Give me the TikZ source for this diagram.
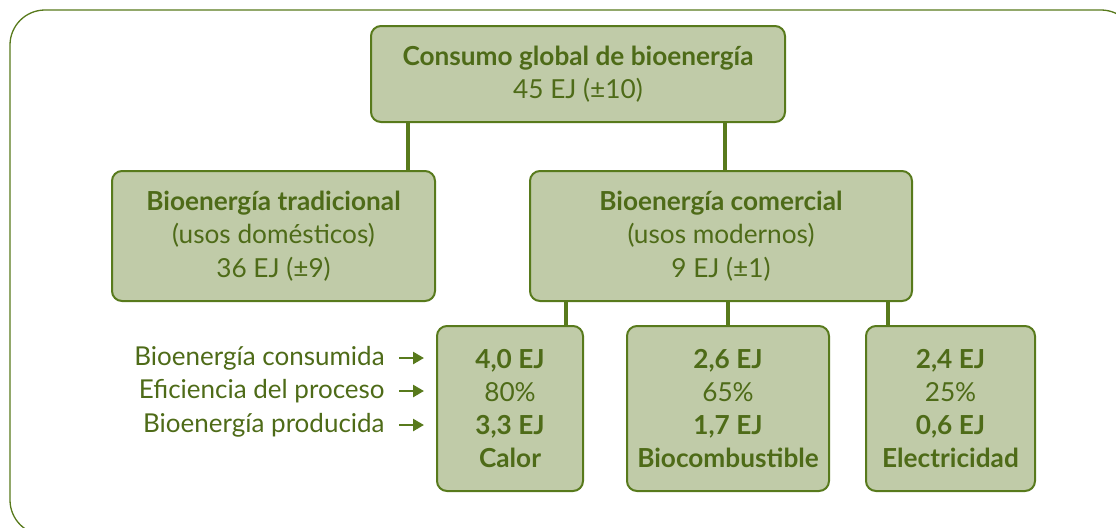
\documentclass[tikz,border=0pt]{standalone}
\usepackage{fontspec}
\setmainfont{Lato}
\usetikzlibrary{positioning,arrows.meta}
\definecolor{olive}{HTML}{587A1C}
\definecolor{olivetext}{HTML}{4E6B18}
\definecolor{sage}{HTML}{C0CBA8}
\tikzset{
  % --- frame and boxes ------------------------------------------------------
  frame/.style={draw=olive,line width=0.65pt},
  box/.style={rectangle,rounded corners=5pt,draw=olive,line width=1pt,
              fill=sage,align=center,text=olivetext,inner sep=2pt,
              font=\fontsize{13.1}{16.6}\selectfont},
  rowlab/.style={anchor=east,text=olivetext,inner sep=0pt,
                 font=\fontsize{13}{16.6}\selectfont},
  % --- connectors -----------------------------------------------------------
  link/.style={draw=olive,line width=2pt},
  pointer/.style={-{Triangle[length=5.5pt,width=6pt]},draw=olive,line width=1.3pt},
}

\begin{document}
\begin{tikzpicture}[x=0.5pt,y=-0.5pt]
  \useasboundingbox (0,0) rectangle (1116,527);
  \begin{scope}
    \clip (0,0) rectangle (1116,527);
    \draw[frame,rounded corners=17.5pt] (10,10) rectangle (1136,535);
  \end{scope}

  \node[box,minimum width=207pt,minimum height=48pt] (global) at (578,74)
    {\textbf{Consumo global de bioenergía}\\45 EJ (±10)};
  \node[box,minimum width=161.5pt,minimum height=65pt] (trad) at (273.5,236)
    {\textbf{Bioenergía tradicional}\\(usos domésticos)\\36 EJ (±9)};
  \node[box,minimum width=191pt,minimum height=65pt] (comer) at (721,236)
    {\textbf{Bioenergía comercial}\\(usos modernos)\\9 EJ (±1)};

  \node[box,minimum width=73pt,minimum height=82.5pt] (calor) at (510,408.5)
    {\textbf{4,0 EJ}\\80\%\\\textbf{3,3 EJ}\\\textbf{Calor}};
  \node[box,minimum width=101pt,minimum height=82.5pt] (bio) at (728,408.5)
    {\textbf{2,6 EJ}\\65\%\\\textbf{1,7 EJ}\\\textbf{Biocombustible}};
  \node[box,minimum width=84.5pt,minimum height=82.5pt] (elec) at (950.5,408.5)
    {\textbf{2,4 EJ}\\25\%\\\textbf{0,6 EJ}\\\textbf{Electricidad}};

  \node[rowlab] (cons) at (385,358) {Bioenergía consumida};
  \node[rowlab] (efic) at (385,391) {Eficiencia del proceso};
  \node[rowlab] (prod) at (385,425) {Bioenergía producida};

  % tree links
  \draw[link] (global.south -| 408,0) -- (trad.north -| 408,0);
  \draw[link] (global.south -| 725,0) -- (comer.north -| 725,0);
  \draw[link] (comer.south -| 566,0) -- (calor.north -| 566,0);
  \draw[link] (comer.south -| bio.north) -- (bio.north);
  \draw[link] (comer.south -| 888,0) -- (elec.north -| 888,0);

  % row pointers
  \foreach \r in {cons,efic,prod}
    \draw[pointer] ([xshift=7pt]\r.east) -- ([xshift=-6pt]calor.west |- \r.east);
\end{tikzpicture}
\end{document}
